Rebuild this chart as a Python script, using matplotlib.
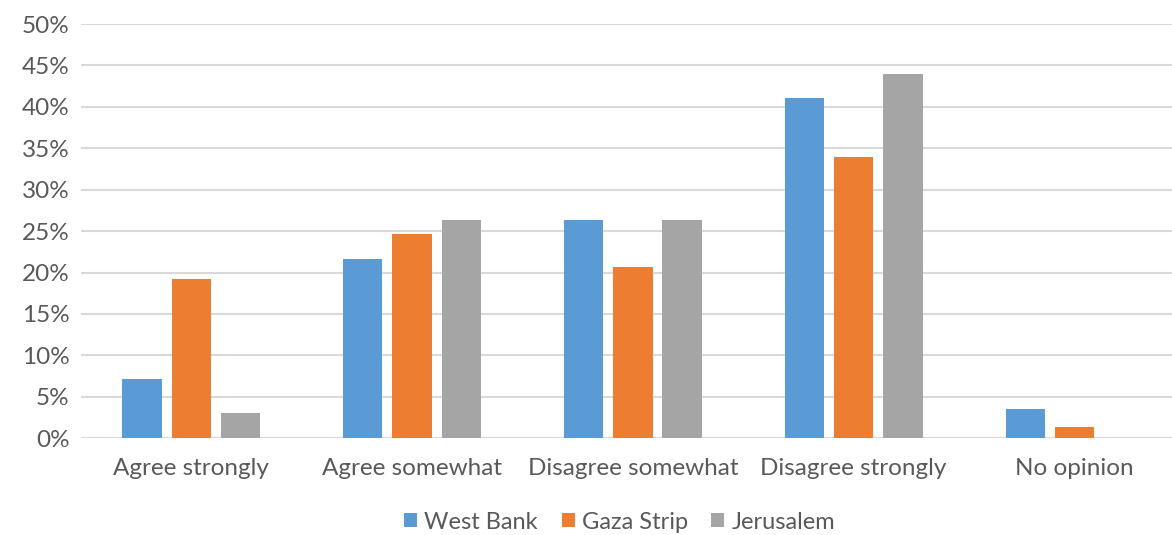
import numpy as np
import matplotlib.pyplot as plt
from matplotlib.ticker import PercentFormatter

categories = ['Agree strongly', 'Agree somewhat', 'Disagree somewhat', 'Disagree strongly', 'No opinion']
west_bank = [7.1, 21.6, 26.3, 41.1, 3.5]
gaza_strip = [19.2, 24.6, 20.7, 34.0, 1.3]
jerusalem = [3.0, 26.4, 26.4, 44.0, 0.0]
series = ['West Bank', 'Gaza Strip', 'Jerusalem']
colors = ['#5b9bd5', '#ed7d31', '#a5a5a5']

plt.rcParams['font.family'] = ['Lato', 'DejaVu Sans']
text_color = '#595959'

fig = plt.figure(figsize=(11.72, 5.35), dpi=100)
ax = fig.add_axes([0.069, 0.181, 0.942, 0.774])

x = np.arange(len(categories))
w = 0.178
step = 0.223
for i, (vals, name, c) in enumerate(zip([west_bank, gaza_strip, jerusalem], series, colors)):
    ax.bar(x + (i - 1) * step, vals, width=w, color=c, label=name, zorder=3)

ax.set_xlim(-0.5, len(categories) - 0.5)
ax.set_ylim(0, 50)
ax.set_yticks(np.arange(0, 51, 5))
ax.yaxis.set_major_formatter(PercentFormatter(decimals=0))
ax.set_xticks(x)
ax.set_xticklabels(categories)
ax.grid(axis='y', color='#d9d9d9', linewidth=1.5, zorder=0)
for s in ax.spines.values():
    s.set_visible(False)
ax.tick_params(axis='both', length=0, labelsize=17.5, colors=text_color)
ax.tick_params(axis='x', pad=14)
ax.tick_params(axis='y', pad=8)

ax.legend(loc='center', bbox_to_anchor=(0.5 - 0.012, -0.203), ncol=3, frameon=False,
          fontsize=17, labelcolor=text_color, handlelength=0.55, handleheight=0.55,
          handletextpad=0.3, columnspacing=1.0)

fig.savefig('out.png', dpi=100)
